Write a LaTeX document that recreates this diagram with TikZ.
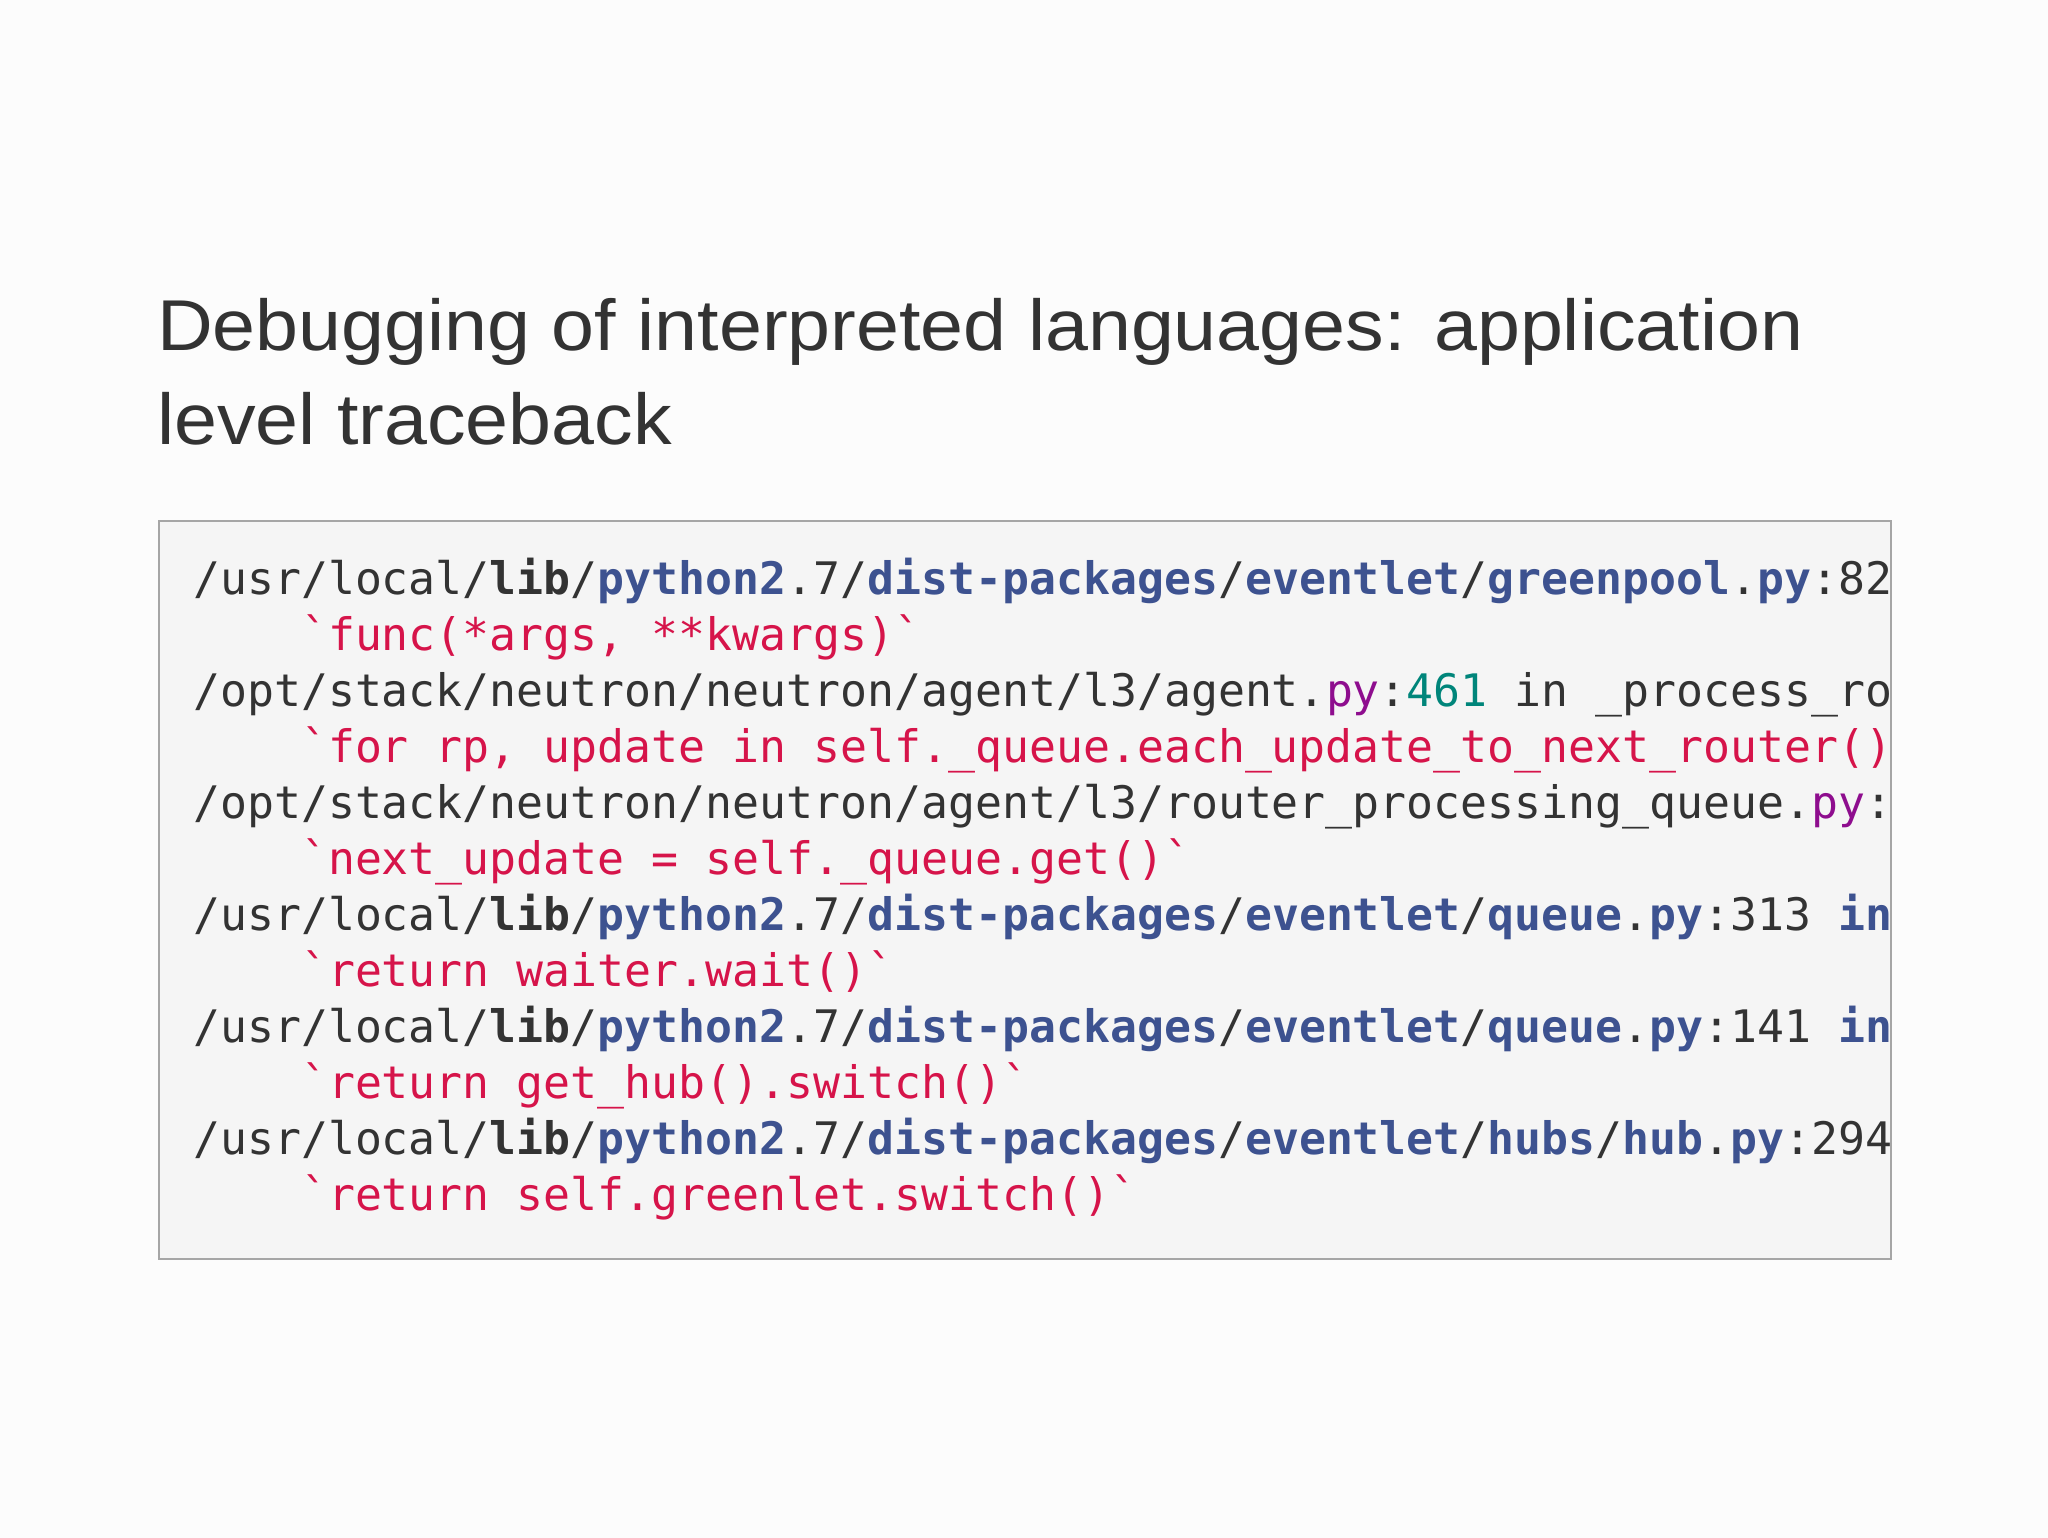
\documentclass[tikz,border=0pt]{standalone}
\usepackage{fontspec}
\setmainfont{Liberation Sans}[FakeStretch=1.072]
\newfontfamily\codefont{DejaVu Sans Mono}
\definecolor{txt}{HTML}{333333}
\definecolor{kwb}{HTML}{3D5290}
\definecolor{red}{HTML}{D6144A}
\definecolor{pur}{HTML}{8E0D8E}
\definecolor{tea}{HTML}{00857A}
\newcommand{\Bk}[1]{\textcolor{kwb}{\bfseries #1}}
\newcommand{\Kd}[1]{{\bfseries #1}}
\newcommand{\Pp}[1]{\textcolor{pur}{#1}}
\newcommand{\Tl}[1]{\textcolor{tea}{#1}}
\begin{document}
\begin{tikzpicture}[x=1pt,y=-1pt,
  code/.style={anchor=base west,inner sep=0pt,font=\codefont\fontsize{44.8}{50}\selectfont,text=txt},
  rcode/.style={code,text=red},
  ttl/.style={anchor=base west,inner sep=0pt,font=\fontsize{72}{80}\selectfont,text=txt}]
\fill[white!98!gray] (0,0) rectangle (2048,1538);
\useasboundingbox (0,0) rectangle (2048,1538);
\node[ttl] (t1) at (157,350) {Debugging of interpreted languages: application};
\node[ttl] (t2) at (157,444) {level traceback};
\draw[fill=black!4,draw=black!35,line width=1.5] (159,521) rectangle (1891,1259);
\begin{scope}
\clip (160,522) rectangle (1890,1258);
\def\pre{/usr/local/\Kd{lib}/\Bk{python2}.7/\Bk{dist-packages}/\Bk{eventlet}/}
\node[code] (l1) at (193,594) {\pre\Bk{greenpool}.\Bk{py}:82 \Bk{in} \_spawn\_n\_impl};
\node[rcode] (l2) at (193,650) {\ \ \ \ `func(*args, **kwargs)`};
\node[code] (l3) at (193,706) {/opt/stack/neutron/neutron/agent/l3/agent.\Pp{py}:\Tl{461} in \_process\_router\_update};
\node[rcode] (l4) at (193,762) {\ \ \ \ `for rp, update in self.\_queue.each\_update\_to\_next\_router()`};
\node[code] (l5) at (193,818) {/opt/stack/neutron/neutron/agent/l3/router\_processing\_queue.\Pp{py}:\Tl{154} in each};
\node[rcode] (l6) at (193,874) {\ \ \ \ `next\_update = self.\_queue.get()`};
\node[code] (l7) at (193,930) {\pre\Bk{queue}.\Bk{py}:313 \Bk{in} get};
\node[rcode] (l8) at (193,986) {\ \ \ \ `return waiter.wait()`};
\node[code] (l9) at (193,1042) {\pre\Bk{queue}.\Bk{py}:141 \Bk{in} wait};
\node[rcode] (l10) at (193,1098) {\ \ \ \ `return get\_hub().switch()`};
\node[code] (l11) at (193,1154) {\pre\Bk{hubs}/\Bk{hub}.\Bk{py}:294 \Bk{in} switch};
\node[rcode] (l12) at (193,1210) {\ \ \ \ `return self.greenlet.switch()`};
\end{scope}
\end{tikzpicture}
\end{document}
